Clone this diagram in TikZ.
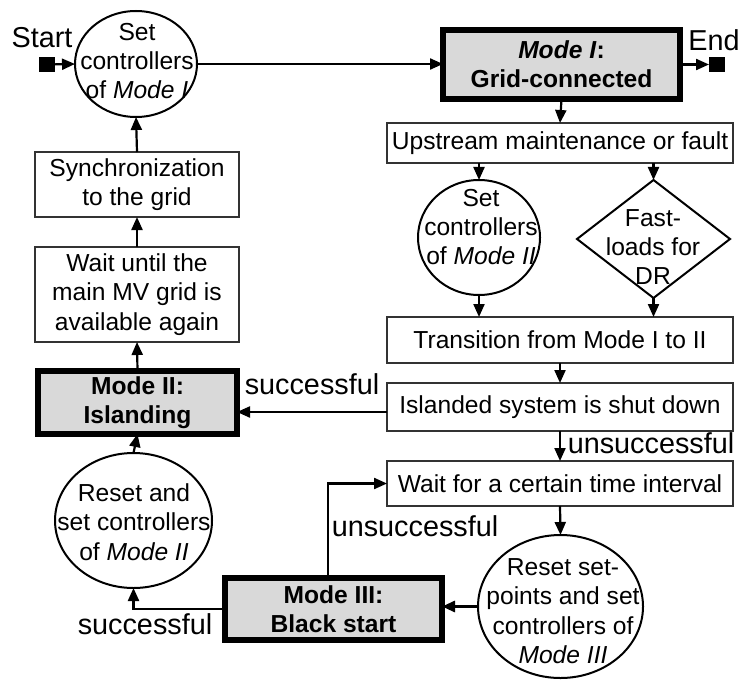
\documentclass[tikz,border=0pt]{standalone}
\usepackage{fontspec}
\setmainfont{Liberation Sans}
\usetikzlibrary{shapes.geometric,arrows.meta}
\begin{document}
\begin{tikzpicture}[x=0.5pt,y=-0.5pt,
  font=\fontsize{12.3}{14.7}\selectfont,
  every node/.style={inner sep=0pt, outer sep=0pt},
  txt/.style={align=center},
  thinbox/.style={draw=black!80, line width=0.75pt, fill=white, align=center},
  modebox/.style={draw=black, line width=3pt, fill=black!15, align=center, font=\fontsize{12.3}{14.7}\selectfont\bfseries},
  oval/.style={ellipse, draw=black, line width=1pt},
  dia/.style={diamond, draw=black, line width=1pt},
  term/.style={fill=black, minimum width=8pt, minimum height=7.5pt},
  arr/.style={line width=1.1pt, -{Triangle[length=6.5pt,width=5.5pt]}},
  lbl/.style={align=center, font=\fontsize{14.4}{17}\selectfont}
]
\useasboundingbox (0,0) rectangle (742,679);

% terminals
\node[term] (s) at (47,64.5) {};
\node[lbl] (slbl) at (42,38) {Start};
\node[term] (e) at (717,64.5) {};
\node[lbl] (elbl) at (714,40) {End};

% ellipses and diamond
\node[oval, minimum width=61pt, minimum height=53pt] (c1) at (136,64) {};
\node[txt] (c1t) at (137,61) {Set\\controllers\\of \textit{Mode I}};
\node[oval, minimum width=61pt, minimum height=57.5pt] (c2) at (479,237.5) {};
\node[txt] (c2t) at (481,227) {Set\\controllers\\of \textit{Mode II}};
\node[dia, minimum width=76.5pt, minimum height=59pt] (d1) at (653.5,239) {};
\node[txt] (d1t) at (653,247) {Fast-\\loads for\\DR};
\node[oval, minimum width=82.5pt, minimum height=71.5pt] (c3) at (560.5,606.5) {};
\node[txt] (c3t) at (563,611) {Reset set-\\points and set\\controllers of\\\textit{Mode III}};
\node[oval, minimum width=78.5pt, minimum height=67.5pt] (c4) at (133.5,520.5) {};
\node[txt] (c4t) at (134,522) {Reset and\\set controllers\\of \textit{Mode II}};

% mode boxes
\node[modebox, minimum width=118.5pt, minimum height=34.5pt] (m1) at (561.5,64.5) {\textit{Mode I}:\\Grid-connected};
\node[modebox, minimum width=99.5pt, minimum height=31.5pt] (m2) at (137.5,402.5) {Mode II:\\Islanding};
\node[modebox, minimum width=108.5pt, minimum height=31pt] (m3) at (333.5,609) {Mode III:\\Black start};

% right column boxes
\node[thinbox, minimum width=173pt, minimum height=20pt] (up) at (560,143) {Upstream maintenance or fault};
\node[thinbox, minimum width=173pt, minimum height=23pt] (tr) at (560,340) {Transition from Mode I to II};
\node[thinbox, minimum width=173pt, minimum height=24pt] (is) at (560,407) {Islanded system is shut down};
\node[thinbox, minimum width=173pt, minimum height=22.5pt] (wt) at (560,483.5) {Wait for a certain time interval};

% left column boxes
\node[thinbox, minimum width=102pt, minimum height=32.5pt] (sy) at (137,184.5) {Synchronization\\to the grid};
\node[thinbox, minimum width=102pt, minimum height=47.5pt] (wu) at (137,294.5) {Wait until the\\main MV grid is\\available again};

% labels
\node[lbl] (l1) at (312,384) {successful};
\node[lbl] (l2) at (651,443) {unsuccessful};
\node[lbl] (l3) at (415,526) {unsuccessful};
\node[lbl] (l4) at (145,624) {successful};

% connectors
\draw[arr] (s) -- (c1.west);
\draw[arr] (c1.east) -- (m1.west |- c1.east);
\draw[arr] (m1.east) -- (e.west);
\draw[arr] (m1.south) -- (up.north);
\draw[arr] (up.south -| c2.north) -- (c2.north);
\draw[arr] (up.south -| d1.north) -- (d1.north);
\draw[arr] (c2.south) -- (tr.north -| c2.south);
\draw[arr] (d1.south) -- (tr.north -| d1.south);
\draw[arr] (tr.south) -- (is.north);
\draw[arr] ([yshift=-2.5pt]is.west) -- ([yshift=-2.5pt]is.west -| m2.east);
\draw[arr] (is.south) -- (wt.north);
\draw[arr] (wt.south) -- (c3.north);
\draw[arr, line width=1.5pt] (c3.west) -- (c3.west -| m3.east);
\draw[arr] ([xshift=-2.75pt]m3.north) |- (wt.west);
\draw[arr] (m3.west) -| (c4.south);
\draw[arr] (c4.north) -- (m2.south);
\draw[arr] (m2.north) -- (wu.south);
\draw[arr] (wu.north) -- (sy.south);
\draw[arr] (sy.north) -- (c1.south);
\end{tikzpicture}
\end{document}
